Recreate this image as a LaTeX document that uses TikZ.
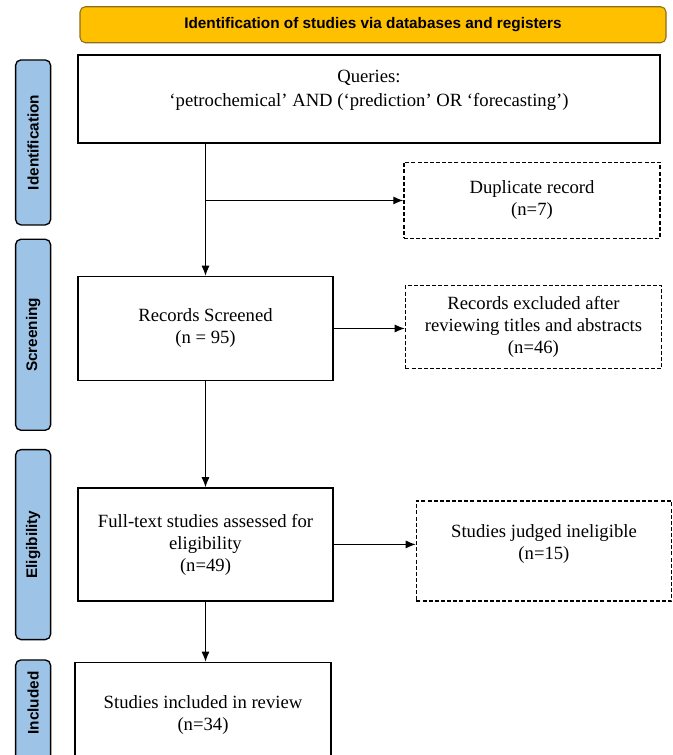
\documentclass[tikz,border=0pt]{standalone}
\usepackage{fontspec}
\usepackage{graphicx}
\setmainfont{Liberation Serif}
\setsansfont{Liberation Sans}
\usetikzlibrary{shapes, arrows.meta, positioning}
\definecolor{bannerorange}{RGB}{255,192,0}
\definecolor{bannerborder}{RGB}{140,110,30}
\definecolor{phaseblue}{RGB}{157,195,230}
\tikzstyle{rect} = [draw, rectangle, line width=1.1pt, fill=white, align=center, font=\fontsize{14}{16.5}\selectfont, inner sep=2pt]
\tikzstyle{dashrect} = [rect, line width=1.1pt, dash pattern=on 3pt off 1.6pt]
\tikzstyle{recttext} = [align=center, font=\fontsize{14}{16.5}\selectfont]
\tikzstyle{phasetext} = [font=\sffamily\bfseries\fontsize{11.5}{13}\selectfont]
\tikzstyle{phase} = [draw, rectangle, rounded corners=4pt, line width=1pt, fill=phaseblue, minimum width=26.25pt, inner sep=0pt, phasetext]
\tikzstyle{banner} = [draw=bannerborder, rectangle, rounded corners=4pt, line width=0.8pt, fill=bannerorange, phasetext]
\tikzstyle{line} = [draw, line width=0.8pt, -{Latex[length=7.5pt, width=6pt]}]
\begin{document}
\begin{tikzpicture}
	\useasboundingbox (0,0) rectangle (504.75pt,-566.25pt);
	\clip (0,0) rectangle (504.75pt,-566.25pt);

	\node [rect, minimum width=436.5pt, minimum height=66pt, label={[recttext, font=\fontsize{14}{18}\selectfont, yshift=6.75pt]center:{Queries:\\‘petrochemical’ AND (‘prediction’ OR ‘forecasting’)}}] (query) at (276.75pt,-74.25pt) {};
	\node [banner, minimum width=439.5pt, minimum height=27pt, above=8.25pt of query, xshift=3pt] (title) {Identification of studies via databases and registers};
	\node [rect, minimum width=191.25pt, minimum height=78pt, below=99pt of query.south west, anchor=north west] (screened) {Records Screened\\(n = 95)};
	\node [rect, minimum width=191.25pt, minimum height=84.75pt, below=79.5pt of screened] (fulltext) {Full-text studies assessed for\\eligibility\\(n=49)};
	\node [rect, minimum width=192pt, minimum height=79.5pt, below=45pt of fulltext.south west, anchor=north west, xshift=-2.25pt] (included) {Studies included in review\\(n=34)};

	\node [dashrect, minimum width=192pt, minimum height=57pt, below=13.5pt of query.south east, anchor=north east] (duplicate) {Duplicate record\\(n=7)};
	\node [dashrect, minimum width=192pt, minimum height=62.25pt, right=53.25pt of screened, yshift=1.1pt] (excluded) {Records excluded after\\reviewing titles and abstracts\\(n=46)};
	\node [dashrect, minimum width=191.25pt, minimum height=75pt, right=61.5pt of fulltext, yshift=-4.9pt, label={[recttext, yshift=5.25pt]center:{Studies judged ineligible\\(n=15)}}] (ineligible) {};

	\node [phase, minimum height=123.75pt, left=19.5pt of query.north west, anchor=north east, yshift=-3.75pt] (identification) {\rotatebox{90}{Identification}};
	\node [phase, minimum height=143.25pt, below=9.75pt of identification] (screening) {\rotatebox{90}{Screening}};
	\node [phase, minimum height=142.5pt, below=13.5pt of screening] (eligibility) {\rotatebox{90}{Eligibility}};
	\node [phase, minimum height=142.5pt, below=14.25pt of eligibility, label={[phasetext, inner sep=0pt, anchor=north, yshift=-9pt]north:\rotatebox{90}{Included}}] (inclusion) {};

	\path [line] (query.south -| screened.north) -- (screened.north);
	\path [line] (screened.north |- duplicate.west) -- (duplicate.west);
	\path [line] (screened.east) -- (screened.east -| excluded.west);
	\path [line] (screened.south) -- (fulltext.north);
	\path [line] (fulltext.east) -- (fulltext.east -| ineligible.west);
	\path [line] (fulltext.south) -- (fulltext.south |- included.north);
\end{tikzpicture}
\end{document}
